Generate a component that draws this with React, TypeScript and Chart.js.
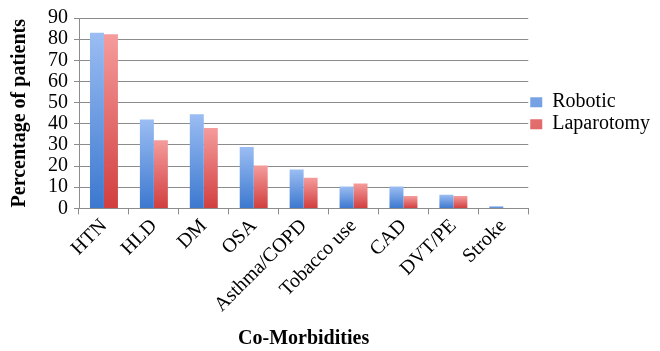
import React, { useEffect, useRef } from "react";
import { Chart, registerables } from "chart.js";

Chart.register(...registerables);

const categories = ["HTN", "HLD", "DM", "OSA", "Asthma/COPD", "Tobacco use", "CAD", "DVT/PE", "Stroke"];
const roboticValues = [83, 42, 44.5, 29, 18.4, 10.3, 10.3, 6.4, 1];
const laparotomyValues = [82.3, 32.2, 38, 20.3, 14.5, 11.8, 5.8, 5.8, 0];
const yTicks = [0, 10, 20, 30, 40, 50, 60, 70, 80, 90];

const FONT_REGULAR = "'Times New Roman', Tinos";
const FONT_BOLD = "'Liberation Serif'";

function barGradient(ctx: any, top: string, bottom: string, solid: string) {
  const chart = ctx.chart;
  const y = chart.scales && chart.scales.y;
  if (ctx.type !== "data" || !y || !chart.chartArea) return solid;
  const yTop = y.getPixelForValue(ctx.raw);
  const yBase = y.getPixelForValue(0);
  if (!isFinite(yTop) || !isFinite(yBase) || Math.abs(yBase - yTop) < 1) return solid;
  const g = chart.ctx.createLinearGradient(0, yTop, 0, yBase);
  g.addColorStop(0, top);
  g.addColorStop(1, bottom);
  return g;
}

export default function App() {
  const ref = useRef<HTMLCanvasElement>(null);
  useEffect(() => {
    const chart = new Chart(ref.current!, {
      type: "bar",
      data: {
        labels: categories,
        datasets: [
          {
            label: "Robotic",
            data: roboticValues,
            backgroundColor: (c: any) => barGradient(c, "#9bbdf3", "#3c78cf", "#5b8fdc"),
            borderWidth: 0,
            categoryPercentage: 0.56,
            barPercentage: 1,
          },
          {
            label: "Laparotomy",
            data: laparotomyValues,
            backgroundColor: (c: any) => barGradient(c, "#f59c9c", "#d13e3e", "#e05f5f"),
            borderWidth: 0,
            categoryPercentage: 0.56,
            barPercentage: 1,
          },
        ],
      },
      options: {
        animation: false,
        responsive: false,
        layout: { padding: { top: 18, right: 0, left: 0, bottom: 0 } },
        plugins: {
          tooltip: { enabled: false },
          legend: {
            position: "right",
            align: "center",
            fullSize: false,
            labels: {
              font: { family: FONT_REGULAR, size: 20 },
              color: "#000",
              boxWidth: 12,
              boxHeight: 10,
              padding: 2,
            },
          },
        },
        scales: {
          x: {
            grid: {
              offset: true,
              drawOnChartArea: false,
              drawTicks: true,
              tickLength: 6,
              color: "#8c8c8c",
            },
            border: { color: "#8c8c8c", width: 1 },
            ticks: {
              font: { family: FONT_REGULAR, size: 20 },
              color: "#000",
              minRotation: 45,
              maxRotation: 45,
              autoSkip: false,
              padding: 0,
            },
            title: {
              display: true,
              text: "Co-Morbidities",
              font: { family: FONT_BOLD, size: 20, weight: "bold" },
              color: "#000",
              padding: { top: 10, bottom: 0 },
            },
          },
          y: {
            min: 0,
            max: 90,
            afterBuildTicks: (axis: any) => {
              axis.ticks = yTicks.map((v) => ({ value: v }));
            },
            grid: {
              color: "#8c8c8c",
              drawTicks: true,
              tickLength: 5,
            },
            border: { color: "#8c8c8c", width: 1 },
            ticks: {
              font: { family: FONT_REGULAR, size: 20 },
              color: "#000",
              padding: 6,
              autoSkip: false,
            },
            title: {
              display: true,
              text: "Percentage of patients",
              font: { family: FONT_BOLD, size: 20, weight: "bold" },
              color: "#000",
              padding: { top: 8, bottom: 10 },
            },
          },
        },
      },
    });
    return () => chart.destroy();
  }, []);
  return (
    <div style={{ position: "absolute", left: 0, top: 0 }}>
      <canvas ref={ref} width={660} height={351} />
    </div>
  );
}
